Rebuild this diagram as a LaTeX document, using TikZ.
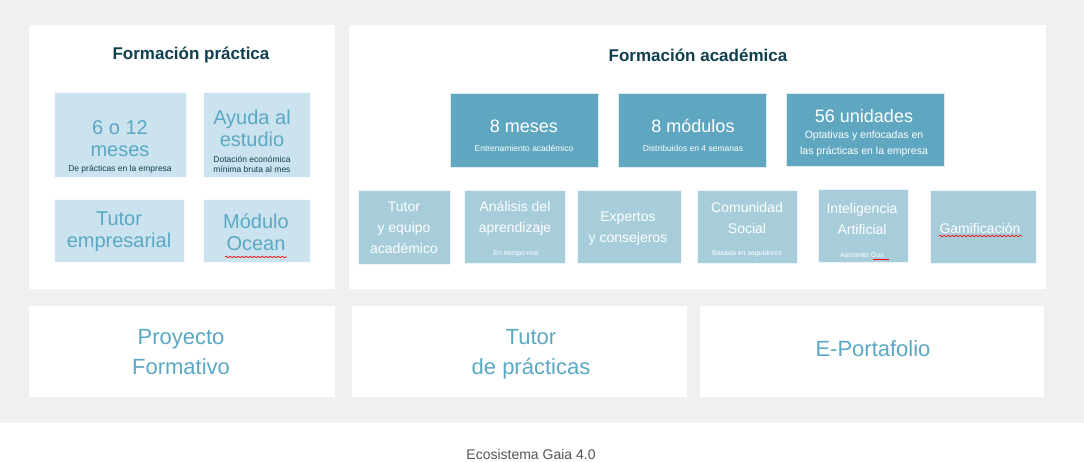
\documentclass[tikz,border=0pt]{standalone}
\usepackage{fontspec}
\setmainfont{Liberation Sans}
\usetikzlibrary{decorations.pathmorphing}
\definecolor{bg}{HTML}{F0F0F0}
\definecolor{lb}{HTML}{CBE3EE}
\definecolor{db}{HTML}{5FA7C0}
\definecolor{mb}{HTML}{A7CDDB}
\definecolor{tx}{HTML}{5BA8C4}
\definecolor{ti}{HTML}{0F3F4F}
\definecolor{cap}{HTML}{555555}
\tikzset{
  panel/.style={fill=white,draw=none},
  lbox/.style={fill=lb,draw=white!85!lb,line width=0.6pt},
  dbox/.style={fill=db,draw=white!80!db,line width=0.6pt},
  mbox/.style={fill=mb,draw=white!80!mb,line width=0.6pt},
  ltxt/.style={text=tx,align=center,font=\fontsize{20}{22}\selectfont,inner sep=0},
  wtxt/.style={text=white,align=center,inner sep=0},
  wavy/.style={draw=red,line width=0.6pt,decorate,decoration={snake,amplitude=0.8pt,segment length=4pt}}
}
\begin{document}
\begin{tikzpicture}[x=1pt,y=-1pt]
\useasboundingbox (0,0) rectangle (1084,461);
\fill[white] (0,0) rectangle (1084,461);
\fill[bg] (0,0) rectangle (1084,423);
\fill[panel] (29,25) rectangle (335,289);
\fill[panel] (349,25) rectangle (1046,289);
\fill[panel] (29,306) rectangle (335,397);
\fill[panel] (352,306) rectangle (687,397);
\fill[panel] (700,306) rectangle (1044,397);
\node[text=ti,font=\bfseries\fontsize{17}{20}\selectfont] (t1) at (191,55) {Formación práctica};
\node[text=ti,font=\bfseries\fontsize{17}{20}\selectfont] (t2) at (698,55) {Formación académica};
% left boxes
\draw[lbox] (54,92) rectangle (186,177);
\node[ltxt] (a1) at (120,139) {6 o 12\\meses};
\node[text=ti,font=\fontsize{8.5}{10}\selectfont,inner sep=0] (a1s) at (120,169) {De prácticas en la empresa};
\draw[lbox] (203,92) rectangle (310,177);
\node[ltxt] (a2) at (252,128) {Ayuda al\\estudio};
\node[text=ti,font=\fontsize{8.5}{10}\selectfont,inner sep=0,align=left] (a2s) at (252,164) {Dotación económica\\mínima bruta al mes};
\draw[lbox] (54,199) rectangle (184,262);
\node[ltxt] (a3) at (119,232) {Tutor\\empresarial};
\draw[lbox] (203,199) rectangle (310,262);
\node[ltxt] (a4) at (256,232) {Módulo\\Ocean};
\draw[wavy] (225,257) -- (287,257);
% dark boxes
\draw[dbox] (450,93) rectangle (598,167);
\node[wtxt,font=\fontsize{18}{20}\selectfont] (b1) at (524,126) {8 meses};
\node[wtxt,font=\fontsize{8.5}{10}\selectfont] (b1s) at (524,148) {Entrenamiento académico};
\draw[dbox] (618,93) rectangle (766,167);
\node[wtxt,font=\fontsize{18}{20}\selectfont] (b2) at (693,126) {8 módulos};
\node[wtxt,font=\fontsize{8.5}{10}\selectfont] (b2s) at (693,148) {Distribuidos en 4 semanas};
\draw[dbox] (786,93) rectangle (944,166);
\node[wtxt,font=\fontsize{18}{20}\selectfont] (b3) at (864,116) {56 unidades};
\node[wtxt,font=\fontsize{10.5}{16}\selectfont] (b3s) at (864,144) {Optativas y enfocadas en\\las prácticas en la empresa};
% mid boxes
\tikzset{mt/.style={wtxt,font=\fontsize{14}{21}\selectfont},ms/.style={wtxt,font=\fontsize{7}{8}\selectfont}}
\draw[mbox] (358,190) rectangle (450,264);
\node[mt] (c1) at (404,228) {Tutor\\y equipo\\académico};
\draw[mbox] (464,190) rectangle (565,263);
\node[mt] (c2) at (515,218) {Análisis del\\aprendizaje};
\node[ms] (c2s) at (516,254) {En tiempo real};
\draw[mbox] (577,190) rectangle (681,263);
\node[mt] (c3) at (628,229) {Expertos\\y consejeros};
\draw[mbox] (697,190) rectangle (797,263);
\node[mt] (c4) at (747,218) {Comunidad\\Social};
\node[ms] (c4s) at (747,254) {Basada en seguidores};
\draw[mbox] (818,189) rectangle (908,262);
\node[mt] (c5) at (862,219) {Inteligencia\\Artificial};
\node[ms] (c5s) at (862,255) {Asistente Gus};
\draw[red,line width=0.6pt] (873,259) -- (889,259);
\draw[mbox] (930,190) rectangle (1036,263);
\node[mt] (c6) at (980,228) {Gamificación};
\draw[wavy] (939,236) -- (1022,236);
% bottom
\tikzset{bt/.style={text=tx,align=center,font=\fontsize{22}{30}\selectfont,inner sep=0}}
\node[bt] (d1) at (181,352) {Proyecto\\Formativo};
\node[bt] (d2) at (531,354) {Tutor\\de prácticas};
\node[bt] (d3) at (873,349) {E-Portafolio};
\node[text=cap,font=\fontsize{14}{16}\selectfont] (cp) at (531,454) {Ecosistema Gaia 4.0};
\end{tikzpicture}
\end{document}
